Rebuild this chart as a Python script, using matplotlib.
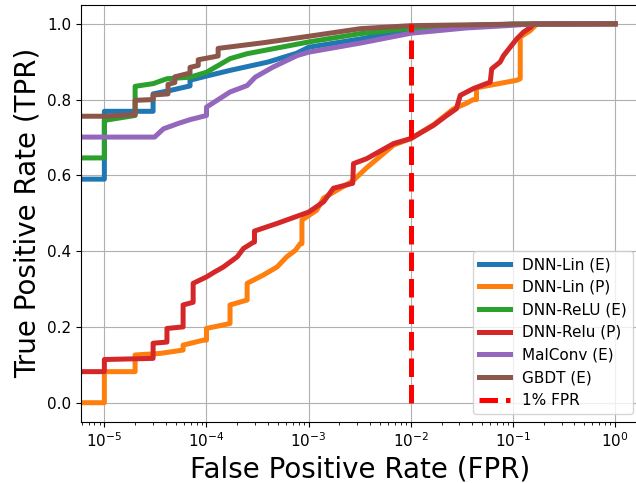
import matplotlib.pyplot as plt

# ROC points (FPR, TPR) for each model; FPR = 0 marks the starting TPR
lin_e_fpr = [0, 1e-5, 1e-5, 3.0e-5, 3.0e-5, 4.4e-5, 6.9e-5, 6.9e-5, 1e-4, 1.7e-4, 4.0e-4,
             7.6e-4, 1e-3, 3.2e-3, 1e-2, 3e-2, 1e-1, 1.0]
lin_e_tpr = [0.590, 0.590, 0.769, 0.769, 0.815, 0.824, 0.836, 0.851, 0.862, 0.877, 0.899,
             0.922, 0.938, 0.960, 0.985, 0.995, 0.999, 1.0]

lin_p_fpr = [0, 1e-5, 1e-5, 2.0e-5, 2.0e-5, 3.5e-5, 5.9e-5, 5.9e-5, 9.3e-5, 1e-4, 1e-4,
             1.7e-4, 1.7e-4, 2.5e-4, 2.5e-4, 3.6e-4, 4.9e-4, 6.1e-4, 7.4e-4, 8.3e-4, 8.6e-4,
             8.6e-4, 1.2e-3, 1.4e-3, 2.7e-3, 3.7e-3, 6.8e-3, 1e-2, 1.7e-2, 2.6e-2, 3.5e-2,
             4.1e-2, 4.4e-2, 4.4e-2, 1.09e-1, 1.18e-1, 1.18e-1, 1.48e-1, 1.72e-1, 1.0]
lin_p_tpr = [0.0, 0.0, 0.082, 0.082, 0.126, 0.130, 0.139, 0.152, 0.165, 0.165, 0.196,
             0.209, 0.258, 0.271, 0.315, 0.337, 0.358, 0.385, 0.402, 0.420, 0.420,
             0.482, 0.508, 0.540, 0.585, 0.620, 0.680, 0.697, 0.735, 0.775, 0.790,
             0.800, 0.800, 0.831, 0.851, 0.855, 0.965, 0.982, 1.0, 1.0]

relu_e_fpr = [0, 1e-5, 1e-5, 2.0e-5, 2.0e-5, 3.0e-5, 4.1e-5, 6.9e-5, 1e-4, 1.7e-4, 2.5e-4,
              1e-3, 3.2e-3, 1e-2, 1e-1, 1.0]
relu_e_tpr = [0.646, 0.646, 0.745, 0.758, 0.835, 0.842, 0.855, 0.859, 0.872, 0.908, 0.921,
              0.952, 0.974, 0.988, 0.999, 1.0]

relu_p_fpr = [0, 1e-5, 1e-5, 3.0e-5, 3.0e-5, 4.1e-5, 4.1e-5, 5.9e-5, 5.9e-5, 7.4e-5, 7.4e-5,
              1e-4, 1.2e-4, 1.46e-4, 2.0e-4, 2.3e-4, 2.9e-4, 2.95e-4, 2.95e-4, 4.9e-4, 1e-3,
              1.4e-3, 1.75e-3, 2.7e-3, 2.75e-3, 3.7e-3, 6.8e-3, 1e-2, 1.67e-2, 2.25e-2, 2.8e-2,
              3.05e-2, 4.1e-2, 6.0e-2, 6.2e-2, 7.5e-2, 8.1e-2, 9.4e-2, 1.09e-1, 1.27e-1,
              1.48e-1, 1.6e-1, 1.0]
relu_p_tpr = [0.082, 0.082, 0.114, 0.117, 0.157, 0.160, 0.196, 0.200, 0.258, 0.265, 0.315,
              0.332, 0.345, 0.358, 0.385, 0.407, 0.424, 0.424, 0.453, 0.473, 0.503,
              0.530, 0.566, 0.579, 0.631, 0.644, 0.684, 0.697, 0.732, 0.758, 0.776,
              0.811, 0.829, 0.846, 0.881, 0.899, 0.916, 0.938, 0.960, 0.978,
              0.990, 1.0, 1.0]

malconv_fpr = [0, 3.1e-5, 3.8e-5, 5.3e-5, 6.9e-5, 1e-4, 1e-4, 1.7e-4, 2.5e-4, 3.0e-4, 4.5e-4,
               7.7e-4, 1e-3, 3.2e-3, 1e-2, 3.5e-2, 1e-1, 1.6e-1, 1.0]
malconv_tpr = [0.701, 0.701, 0.723, 0.737, 0.747, 0.758, 0.780, 0.820, 0.837, 0.859, 0.886,
               0.916, 0.925, 0.949, 0.975, 0.989, 0.996, 1.0, 1.0]

gbdt_fpr = [0, 1e-5, 2.0e-5, 2.0e-5, 3.0e-5, 3.0e-5, 4.2e-5, 4.2e-5, 4.9e-5, 4.9e-5, 6.9e-5,
            6.9e-5, 8.3e-5, 8.3e-5, 1.3e-4, 1.3e-4, 3.6e-4, 1e-3, 3.2e-3, 1e-2, 1e-1, 1.0]
gbdt_tpr = [0.754, 0.756, 0.760, 0.798, 0.800, 0.812, 0.815, 0.840, 0.845, 0.860, 0.870,
            0.885, 0.890, 0.905, 0.915, 0.935, 0.950, 0.967, 0.987, 0.995, 0.999, 1.0]

fpr_1pct = 0.01

fig = plt.figure(figsize=(6.36, 4.83), dpi=100)
ax = fig.add_axes([0.127, 0.127, 0.880, 0.863])

lw = 3.6
ax.plot(lin_e_fpr, lin_e_tpr, label='DNN-Lin (E)', lw=lw)
ax.plot(lin_p_fpr, lin_p_tpr, label='DNN-Lin (P)', lw=lw)
ax.plot(relu_e_fpr, relu_e_tpr, label='DNN-ReLU (E)', lw=lw)
ax.plot(relu_p_fpr, relu_p_tpr, label='DNN-Relu (P)', lw=lw)
ax.plot(malconv_fpr, malconv_tpr, label='MalConv (E)', lw=lw)
ax.plot(gbdt_fpr, gbdt_tpr, label='GBDT (E)', lw=lw)

# 1% false positive rate marker
ax.plot([fpr_1pct, fpr_1pct], [0, 1], color='red', linestyle='--', lw=lw, label='1% FPR')

ax.set_xscale('log')
ax.set_xlim(10 ** -5.231, 10 ** 0.249)
ax.set_ylim(-0.05, 1.05)
ax.set_xlabel('False Positive Rate (FPR)', fontsize=20)
ax.set_ylabel('True Positive Rate (TPR)', fontsize=20)
ax.tick_params(labelsize=11)
ax.grid(True)
ax.legend(loc='lower right', fontsize=11)

plt.savefig('out.png', dpi=100)
